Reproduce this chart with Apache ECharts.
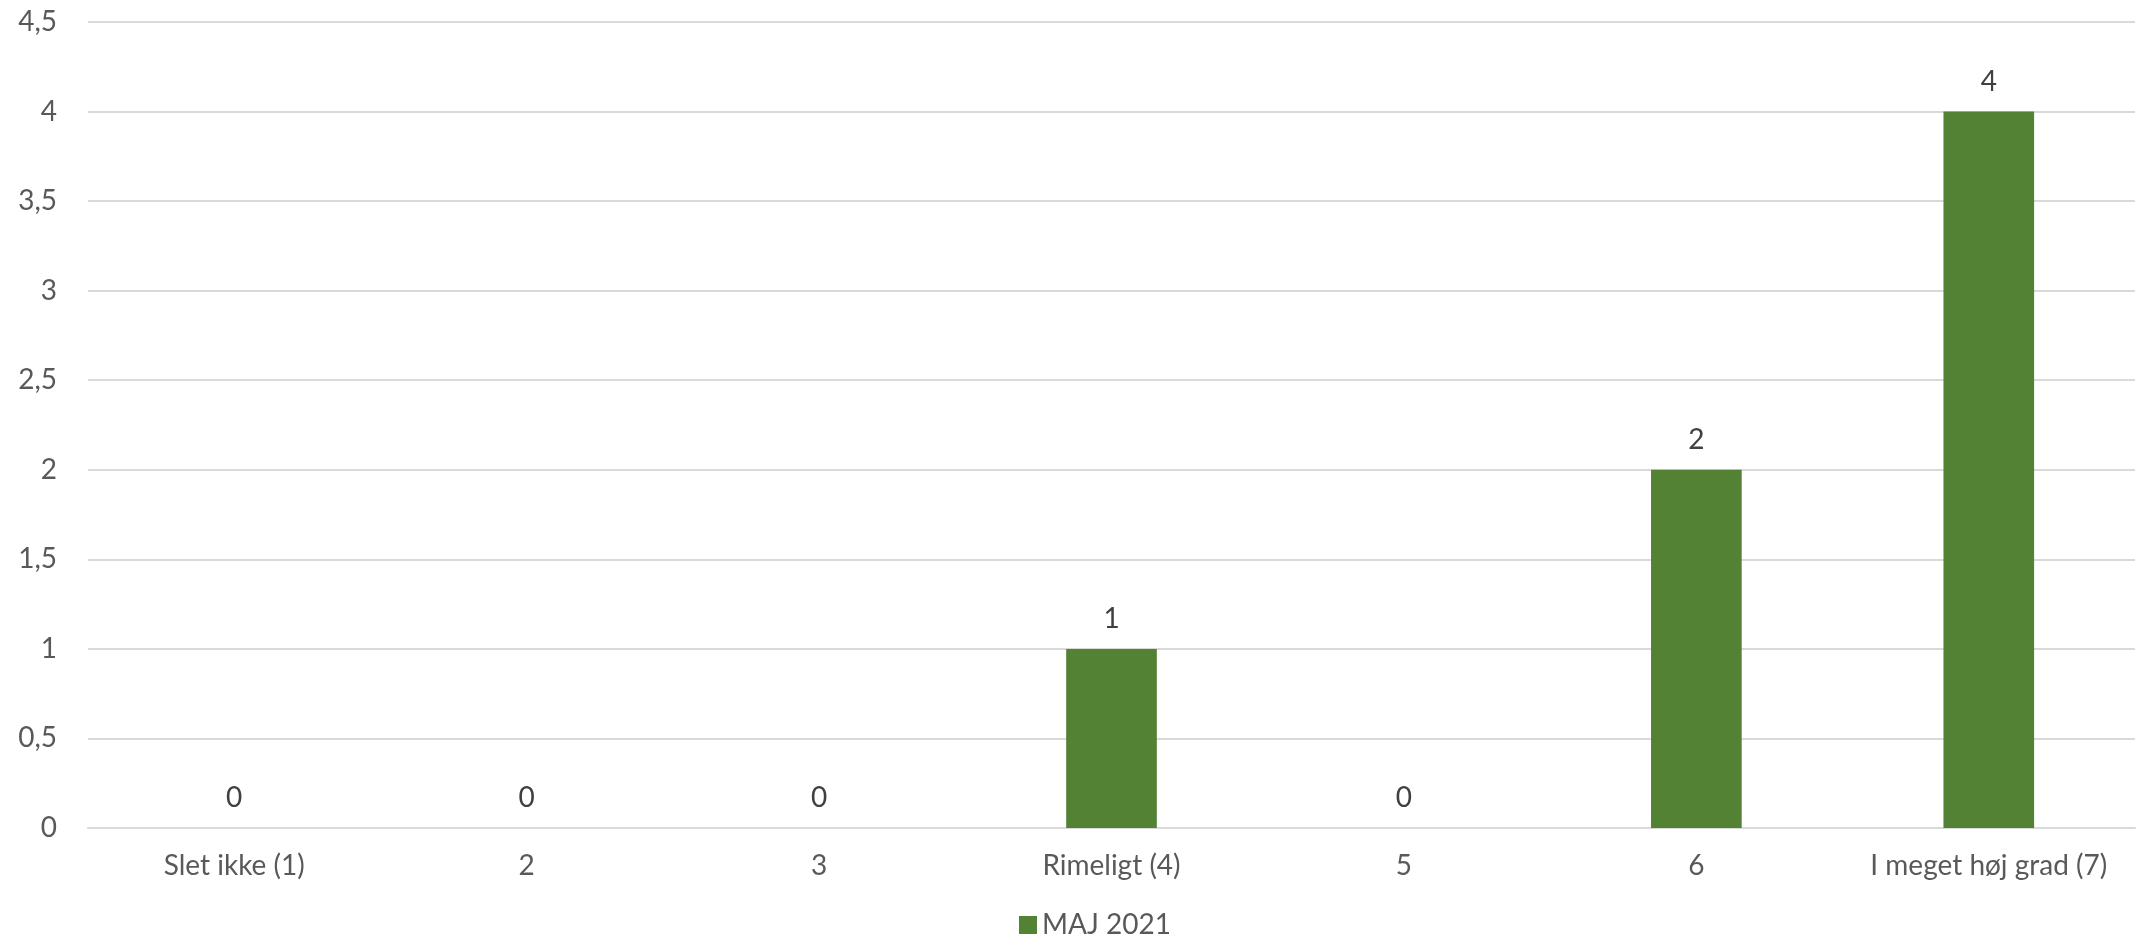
<!DOCTYPE html>
<html>
<head>
<meta charset="utf-8">
<script src="https://cdn.jsdelivr.net/npm/echarts@6/dist/echarts.min.js"></script>
<style>html,body{margin:0;padding:0;background:#fff;}#c{width:2139px;height:946px;}</style>
</head>
<body>
<div id="c"></div>
<script>
const categories = ['Slet ikke (1)', '2', '3', 'Rimeligt (4)', '5', '6', 'I meget høj grad (7)'];
const seriesName = 'MAJ 2021';
const values = [0, 0, 0, 1, 0, 2, 4];
const yTicks = { min: 0, max: 4.5, interval: 0.5 };

const FONT = 'Lato';
const FS = 28;
const chart = echarts.init(document.getElementById('c'), null, { renderer: 'canvas' });
chart.setOption({
  animation: false,
  backgroundColor: '#ffffff',
  textStyle: { fontFamily: FONT },
  grid: { left: 88, right: 4, top: 22, bottom: 118, containLabel: false },
  legend: {
    bottom: 2,
    left: 1014,
    icon: 'rect',
    itemWidth: 18,
    itemHeight: 18,
    itemGap: 10,
    textStyle: { color: '#595959', fontSize: FS, fontFamily: FONT },
    data: [seriesName]
  },
  xAxis: {
    type: 'category',
    data: categories,
    axisTick: { show: false },
    axisLine: { lineStyle: { color: '#d9d9d9', width: 2 } },
    axisLabel: { color: '#595959', fontSize: FS, fontFamily: FONT, margin: 24, interval: 0 }
  },
  yAxis: {
    type: 'value',
    min: yTicks.min,
    max: yTicks.max,
    interval: yTicks.interval,
    axisLine: { show: false },
    axisTick: { show: false },
    splitLine: { lineStyle: { color: '#d9d9d9', width: 2 } },
    axisLabel: {
      color: '#595959', fontSize: FS, fontFamily: FONT, margin: 31,
      formatter: v => String(v).replace('.', ',')
    }
  },
  series: [{
    name: seriesName,
    type: 'bar',
    data: values,
    barWidth: '31%',
    itemStyle: { color: '#548235' },
    label: { show: true, position: 'top', distance: 16, color: '#404040', fontSize: FS, fontFamily: FONT }
  }]
});
</script>
</body>
</html>
